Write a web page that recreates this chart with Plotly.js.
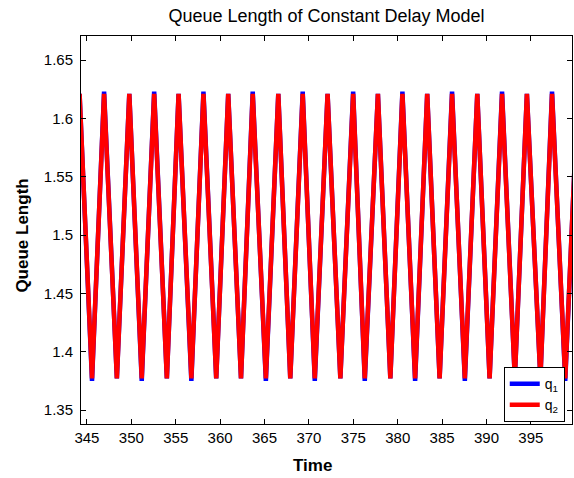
<!DOCTYPE html>
<html>
<head>
<meta charset="utf-8">
<script src="https://cdn.plot.ly/plotly-3.0.1.min.js"></script>
<style>html,body{margin:0;padding:0;background:#fff;}#chart{width:574px;height:478px;}</style>
</head>
<body>
<div id="chart"></div>
<script>
// Turning points (alternating peak / trough)
const time = [344.17, 345.57, 346.93, 348.37, 349.77, 351.17, 352.57, 354.00, 355.32, 356.76,
              358.12, 359.56, 360.91, 362.35, 363.67, 365.15, 366.55, 367.90, 369.30, 370.66,
              372.10, 373.54, 374.98, 376.29, 377.77, 379.17, 380.53, 381.96, 383.32, 384.72,
              386.12, 387.56, 388.96, 390.35, 391.75, 393.19, 394.55, 396.07, 397.38, 398.87,
              400.27];
const q1 = [1.621, 1.375, 1.623, 1.377, 1.621, 1.375, 1.623, 1.377, 1.621, 1.375,
            1.623, 1.377, 1.621, 1.377, 1.623, 1.375, 1.621, 1.377, 1.623, 1.375,
            1.621, 1.377, 1.623, 1.375, 1.621, 1.377, 1.623, 1.375, 1.621, 1.377,
            1.623, 1.375, 1.621, 1.377, 1.623, 1.377, 1.621, 1.377, 1.623, 1.375,
            1.621];
const q2 = [1.621, 1.377, 1.621, 1.377, 1.621, 1.377, 1.621, 1.377, 1.621, 1.377,
            1.621, 1.377, 1.621, 1.377, 1.621, 1.377, 1.621, 1.377, 1.621, 1.377,
            1.621, 1.377, 1.621, 1.377, 1.621, 1.377, 1.621, 1.377, 1.621, 1.377,
            1.621, 1.377, 1.621, 1.377, 1.621, 1.377, 1.621, 1.377, 1.621, 1.377,
            1.621];
const seriesNames = ['q<sub>1</sub>', 'q<sub>2</sub>'];
const xTickVals = [345, 350, 355, 360, 365, 370, 375, 380, 385, 390, 395];
const xTickText = ['345', '350', '355', '360', '365', '370', '375', '380', '385', '390', '395'];
const yTickVals = [1.35, 1.4, 1.45, 1.5, 1.55, 1.6, 1.65];
const yTickText = ['1.35', '1.4', '1.45', '1.5', '1.55', '1.6', '1.65'];

const FONT = 'Liberation Sans, Arial, Helvetica, sans-serif';

const traces = [
  {x: time, y: q1, type: 'scatter', mode: 'lines', name: seriesNames[0],
   line: {color: '#0000ff', width: 4.5}},
  {x: time, y: q2, type: 'scatter', mode: 'lines', name: seriesNames[1],
   line: {color: '#ff0000', width: 4.5}}
];

const axisCommon = {
  showline: true, linecolor: '#000', linewidth: 1, mirror: 'ticks',
  ticks: 'inside', ticklen: 5, tickwidth: 1, tickcolor: '#000',
  showgrid: false, zeroline: false,
  tickfont: {family: FONT, size: 15, color: '#000'}
};

const layout = {
  width: 574, height: 478,
  margin: {l: 81, r: 2, t: 36, b: 54},
  paper_bgcolor: '#fff', plot_bgcolor: '#fff',
  font: {family: FONT, color: '#000'},
  title: {text: 'Queue Length of Constant Delay Model',
          font: {family: FONT, size: 18, color: '#000'},
          x: 0.5 * (81 + 572) / 574, xanchor: 'center',
          y: 1 - 16 / 478, yanchor: 'middle'},
  xaxis: Object.assign({}, axisCommon, {
    range: [344.33, 399.63], tickmode: 'array', tickvals: xTickVals, ticktext: xTickText
  }),
  yaxis: Object.assign({}, axisCommon, {
    range: [1.338, 1.6706], tickmode: 'array', tickvals: yTickVals, ticktext: yTickText,
    ticklabelstandoff: 4
  }),
  showlegend: true,
  legend: {x: 0.861, xanchor: 'left', y: 0.005, yanchor: 'bottom',
           bgcolor: '#fff', bordercolor: '#000', borderwidth: 1,
           font: {family: FONT, size: 14, color: '#000'},
           tracegroupgap: 0, itemwidth: 30},
  annotations: [
    {text: '<b>Time</b>', xref: 'paper', yref: 'paper', x: 0.472, y: -0.108,
     xanchor: 'center', yanchor: 'middle', showarrow: false,
     font: {family: FONT, size: 17, color: '#000'}},
    {text: '<b>Queue Length</b>', xref: 'paper', yref: 'paper', x: -0.121, y: 0.4845,
     xanchor: 'center', yanchor: 'middle', textangle: -90, showarrow: false,
     font: {family: FONT, size: 17, color: '#000'}}
  ]
};

Plotly.newPlot('chart', traces, layout, {displayModeBar: false, staticPlot: true});
</script>
</body>
</html>
